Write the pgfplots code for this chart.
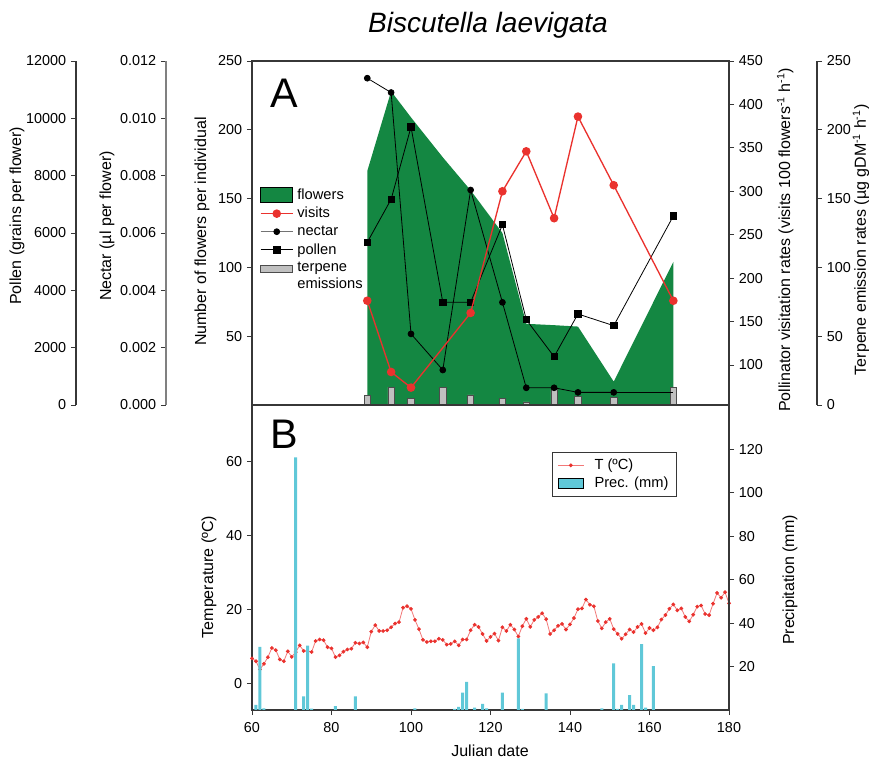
\documentclass[border=0pt]{standalone}
\usepackage{fontspec}
\setmainfont{Liberation Sans}
\usepackage{pgfplots}
\pgfplotsset{compat=1.18}

\definecolor{flowgreen}{RGB}{20,135,66}
\definecolor{visred}{RGB}{234,50,46}
\definecolor{terpgray}{RGB}{192,192,192}
\definecolor{preccyan}{RGB}{96,200,216}
\definecolor{tline}{RGB}{242,120,120}
\definecolor{axgray}{RGB}{55,55,55}

\pgfplotsset{
  every axis/.append style={
    scale only axis,
    xmin=60, xmax=180,
    tick align=outside,
    major tick length=3.8pt,
    axis line style={axgray, line width=0.8pt},
    every tick/.style={axgray, line width=0.7pt},
    /pgf/number format/assume math mode=true,
    tick label style={font=\fontsize{10.8}{12}\selectfont},
  },
  panelA/.style={width=357.75pt, height=258pt, at={(189pt,268.5pt)}},
  panelB/.style={width=357.75pt, height=228.75pt, at={(189pt,39.75pt)}},
  ylab/.style 2 args={every axis y label/.style={at={(axis description cs:#1,#2)}, rotate=90, anchor=center, font=\fontsize{12}{14}\selectfont}},
  legarea/.style={legend image code/.code={\draw[##1] (0pt,-5.5pt) rectangle (24pt,5.5pt);}},
  legareaT/.style={legend image code/.code={\draw[##1] (0pt,3pt) rectangle (24pt,8.4pt);}},
  legline/.style={legend image code/.code={\draw[mark repeat=2,mark phase=2,##1] plot coordinates {(0pt,0pt) (12pt,0pt) (24pt,0pt)};}},
  legareaB/.style={legend image code/.code={\draw[##1] (0pt,-3.6pt) rectangle (19pt,3.6pt);}},
  legB/.style={legend image code/.code={\draw[mark repeat=2,mark phase=2,##1] plot coordinates {(0pt,0pt) (9.5pt,0pt) (19pt,0pt)};}},
}

\begin{document}
\begin{tikzpicture}
\useasboundingbox (0,0) rectangle (651.75pt,572.25pt);

\node[anchor=base, font=\fontsize{21}{25}\selectfont\itshape] at (366pt,547.5pt) {Biscutella laevigata};

% ---------------- panel A ----------------
% flowers (main box)
\begin{axis}[panelA,
  ymin=0, ymax=250, ytick={50,100,...,250}, ytick pos=left,
  xtick=\empty,
  ylab={-0.1048}{0.504}, ylabel={Number of flowers per individual}]
\addplot[fill=flowgreen, draw=none] coordinates {
  (89,0) (89,170) (95,228) (100,209) (108,180) (115,156) (123,125)
  (129,59) (136,58) (142,57) (151,17) (166,104) (166,0)} -- cycle;
\end{axis}

% pollen axis line (offset left)
\begin{axis}[width=357.75pt, height=258pt, at={(57pt,268.5pt)},
  hide x axis, axis y line*=left,
  ymin=0, ymax=12000, ytick={0,2000,...,12000},
  scaled y ticks=false,
  y tick label style={/pgf/number format/.cd, fixed, set thousands separator={}, /tikz/.cd},
  ylab={-0.1237}{0.55}, ylabel={Pollen (grains per flower)}]
\end{axis}

% nectar axis line (offset left)
\begin{axis}[width=357.75pt, height=258pt, at={(124.5pt,268.5pt)},
  hide x axis, axis y line*=left, axis line style={gray, line width=0.8pt},
  ymin=0, ymax=0.012, ytick={0,0.002,0.004,0.006,0.008,0.010,0.012},
  scaled y ticks=false,
  y tick label style={/pgf/number format/.cd, fixed, fixed zerofill, precision=3, /tikz/.cd},
  ylab={-0.1237}{0.52}, ylabel={Nectar (µl per flower)}]
\end{axis}

% terpene axis line (offset right)
\begin{axis}[width=357.75pt, height=258pt, at={(255pt,268.5pt)},
  hide x axis, axis y line*=right,
  ymin=0, ymax=250, ytick={0,50,...,250},
  ylab={1.0922}{0.48}, ylabel={Terpene emission rates (µg gDM\textsuperscript{-1} h\textsuperscript{-1})}]
\end{axis}

% terpene bars
\begin{axis}[panelA, hide axis, ymin=0, ymax=250]
\addplot[ybar, bar width=1.6, fill=terpgray, draw=black!70, line width=0.5pt] coordinates {
  (89,7.0) (95,12.9) (100,4.9) (108,12.9) (115,7.3) (123,4.9)
  (129,2.2) (136,11.1) (142,6.3) (151,5.8) (166,12.6)};
\end{axis}

% nectar data
\begin{axis}[panelA, hide axis, ymin=0, ymax=0.012]
\addplot[black, line width=0.6pt, mark=*, mark size=2.2pt] coordinates {
  (89,0.0114) (95,0.0109) (100,0.00248) (108,0.00122) (115,0.0075) (123,0.00358)
  (129,0.0006) (136,0.0006) (142,0.00044) (151,0.00044)};
\addplot[black, line width=0.6pt] coordinates {(151,0.00044) (166,0.00044)};
\end{axis}

% pollen data
\begin{axis}[panelA, hide axis, ymin=0, ymax=12000]
\addplot[black, line width=0.6pt, mark=square*, mark size=2.4pt] coordinates {
  (89,5675) (95,7176) (100,9698) (108,3582) (115,3582) (123,6290)
  (129,2976) (136,1686) (142,3174) (151,2767) (166,6593)};
\end{axis}

% visits (right axis) + legend
\begin{axis}[panelA, axis y line*=right, axis x line=none,
  ymin=54, ymax=450, ytick={100,150,...,450},
  ylab={1.118}{0.48}, ylabel={Pollinator visitation rates (visits 100 flowers\textsuperscript{-1} h\textsuperscript{-1})},
  legend cell align=left,
  legend style={at={(axis description cs:0.008,0.645)}, anchor=north west, draw=none, fill=none,
    font=\fontsize{11}{13}\selectfont, cells={align=left}, row sep=0.5pt, column sep=1pt}]
\addlegendimage{legarea, fill=flowgreen, draw=black, line width=0.8pt}
\addlegendentry{flowers}
\addplot[visred, line width=1pt, mark=*, mark size=2.7pt, legline] coordinates {
  (89,174) (95,92) (100,74) (115,160) (123,300) (129,346)
  (136,269) (142,386) (151,307) (166,174)};
\addlegendentry{visits}
\addlegendimage{legline, black!55, line width=0.6pt, mark=*, mark size=2.2pt, mark options={black}}
\addlegendentry{nectar}
\addlegendimage{legline, black, line width=0.6pt, mark=square*, mark size=2.4pt}
\addlegendentry{pollen}
\addlegendimage{legareaT, fill=terpgray, draw=black!70}
\addlegendentry{terpene\\emissions}
\end{axis}

\node[anchor=base west, font=\fontsize{31}{31}\selectfont] at (199.5pt,491.25pt) {A};

% ---------------- panel B ----------------
\begin{axis}[panelB,
  ymin=-7.2, ymax=75.4, ytick={0,20,40,60}, ytick pos=left,
  xtick={60,80,...,180}, xtick pos=left,
  ylab={-0.0901}{0.436}, ylabel={Temperature (ºC)},
  x tick label style={yshift=-2pt},
  every axis x label/.style={at={(axis description cs:0.499,-0.134)}, anchor=center, font=\fontsize{12}{14}\selectfont},
  xlabel={Julian date}]
\addplot[tline, line width=0.6pt, mark=*, mark size=1.1pt, mark options={draw=visred, fill=visred}] table {
x y
60 6.8
61 6.0
62 3.8
63 5.3
64 7.1
65 9.6
66 9.0
67 6.5
68 6.0
69 8.7
70 7.2
71 8.5
72 10.3
73 8.8
74 8.7
75 8.5
76 11.5
77 11.9
78 11.7
79 9.8
80 9.5
81 7.1
82 7.6
83 8.6
84 9.2
85 9.4
86 11.0
87 10.8
88 11.1
89 9.8
90 14.0
91 15.8
92 14.2
93 14.2
94 14.4
95 15.2
96 16.2
97 16.6
98 20.5
99 20.9
100 20.2
101 17.2
102 14.7
103 11.8
104 11.2
105 11.4
106 11.4
107 12.1
108 11.8
109 10.5
110 10.7
111 11.4
112 10.3
113 11.9
114 11.9
115 14.4
116 15.9
117 15.3
118 13.4
119 11.5
120 12.6
121 13.5
122 11.6
123 15.2
124 14.2
125 15.9
126 14.6
127 12.7
128 15.5
129 17.5
130 15.3
131 17.2
132 18.0
133 19.0
134 17.4
135 13.4
136 14.4
137 15.6
138 16.1
139 14.6
140 16.0
141 17.7
142 20.1
143 20.3
144 22.7
145 21.3
146 20.9
147 16.9
148 14.9
149 16.6
150 17.5
151 14.7
152 13.4
153 12.1
154 13.3
155 14.6
156 13.9
157 15.3
158 16.1
159 13.6
160 15.0
161 14.4
162 15.2
163 17.3
164 18.5
165 20.2
166 21.4
167 19.8
168 20.3
169 18.0
170 16.8
171 18.6
172 20.8
173 21.1
174 18.8
175 18.5
176 21.6
177 24.5
178 23.2
179 24.7
180 21.7
};
\end{axis}

\begin{axis}[panelB, axis y line*=right, axis x line=none,
  ymin=0, ymax=140.4, ytick={20,40,...,120},
  ylab={1.128}{0.426}, ylabel={Precipitation (mm)},
  legend cell align=left,
  legend style={at={(axis description cs:0.629,0.846)}, anchor=north west, draw=axgray, fill=white,
    line width=0.6pt, font=\fontsize{11}{13}\selectfont, inner xsep=4pt, inner ysep=3pt, row sep=0pt, column sep=6pt}]
\addlegendimage{legB, tline, line width=0.6pt, mark=*, mark size=1.1pt, mark options={draw=visred, fill=visred}}
\addlegendentry{T (ºC)}
\addplot[ybar, bar width=0.75, fill=preccyan, draw=none, legareaB] coordinates {
  (61,2.3) (62,29.0) (63,0.8) (71,116.3) (73,6.3) (74,29.6) (75,0.6) (81,1.8) (86,6.3)
  (101,0.8) (111,0.5) (112,1.4) (113,8.0) (114,12.9) (116,1.1) (118,2.8) (119,0.8)
  (123,8.0) (127,33.0) (128,0.5) (134,7.7) (148,0.8) (151,21.5) (152,0.5) (153,2.3)
  (155,6.9) (156,2.3) (158,30.3) (159,1.1) (161,20.2)};
\addlegendentry{Prec. (mm)}
\end{axis}

\node[anchor=base west, font=\fontsize{31}{31}\selectfont] at (199.5pt,235.5pt) {B};

\end{tikzpicture}
\end{document}
